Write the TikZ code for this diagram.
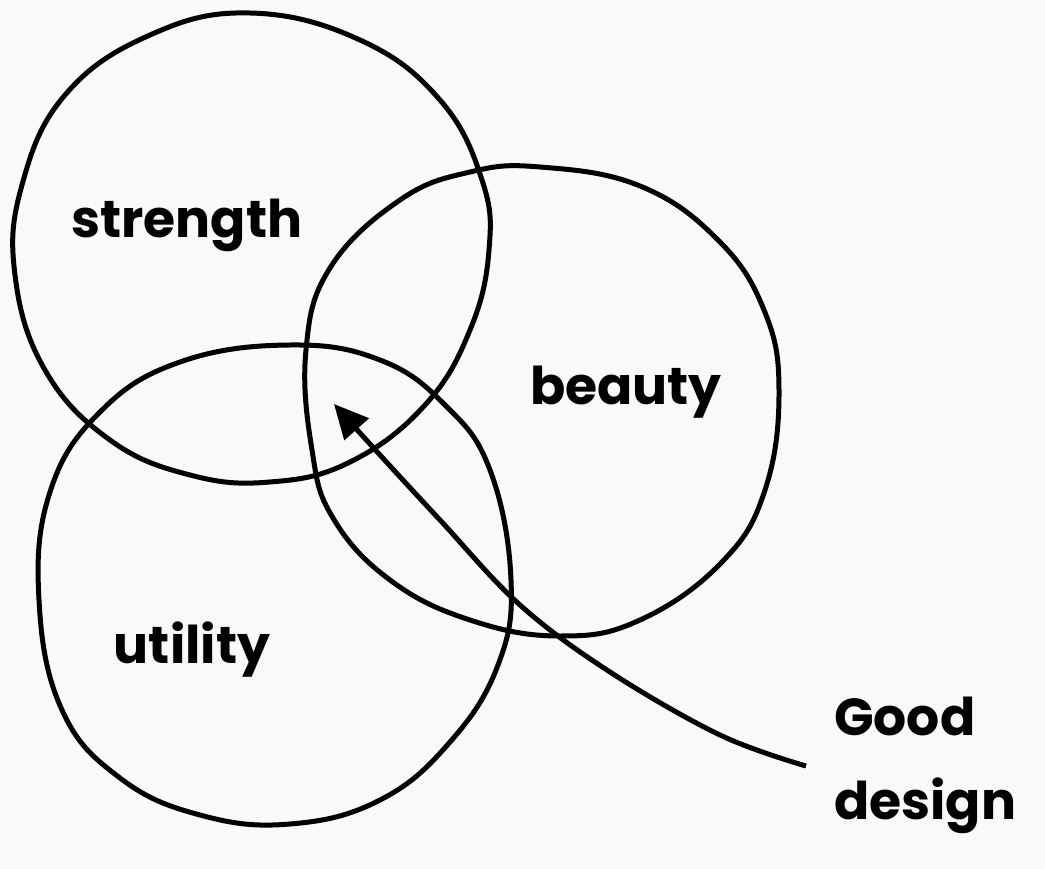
\documentclass[tikz,border=0pt]{standalone}
\usepackage{fontspec}
\setmainfont{Poppins}
\usetikzlibrary{arrows.meta}
\definecolor{bg}{HTML}{F8F9FB}
\begin{document}
\begin{tikzpicture}[x=1pt,y=-1pt,
  ring/.style={line width=5pt,line join=round},
  lbl/.style={font=\fontsize{52}{84}\selectfont\bfseries,inner sep=0pt}]
\fill[bg] (0,0) rectangle (1045,869);
\useasboundingbox (0,0) rectangle (1045,869);
% strength circle
\draw[ring] plot[smooth cycle,tension=0.7] coordinates {
 (250,13) (360,40) (440,100) (482,180) (489,250) (470,330) (425,405)
 (350,462) (270,482) (190,475) (110,440) (45,370) (15,275) (22,185)
 (65,95) (150,35)};
% beauty circle
\draw[ring] plot[smooth cycle,tension=0.7] coordinates {
 (540,167) (640,186) (718,240) (764,310) (779,390) (765,490) (722,562)
 (640,620) (560,636) (470,620) (390,580) (333,518) (312,450) (306,350)
 (330,268) (400,200) (470,172)};
% utility circle
\draw[ring] plot[smooth cycle,tension=0.7] coordinates {
 (290,345) (380,360) (445,405) (490,470) (511,580) (498,665) (450,742)
 (380,800) (290,824) (200,815) (120,778) (62,710) (39,600) (50,492)
 (100,412) (180,362)};
\node[lbl] (strength) at (187,225) {strength};
\node[lbl] (beauty) at (626,392) {beauty};
\node[lbl] (utility) at (192,650) {utility};
\node[lbl,align=left,anchor=west] (good) at (834,765) {Good\\design};
\coordinate (tail) at (806,766);
\coordinate (tip) at (334,404);
\draw[line width=5pt,-{Triangle[length=34pt,width=32pt]}] plot[smooth,tension=0.6] coordinates {
 (tail) (720,735) (610,672) (520,605) (440,520) (380,455) (tip)};
\end{tikzpicture}
\end{document}
